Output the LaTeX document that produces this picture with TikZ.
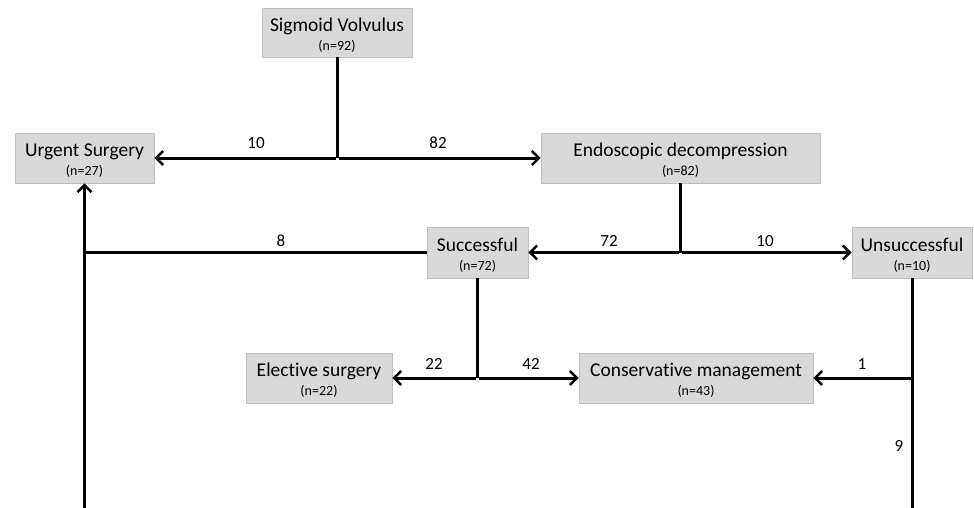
\documentclass[tikz,border=0pt]{standalone}
\usepackage{fontspec}
\setmainfont[Ligatures=NoCommon]{Carlito}
\usetikzlibrary{arrows.meta}
\definecolor{boxfill}{HTML}{D9D9D9}
\definecolor{boxdraw}{HTML}{BFBFBF}
\tikzset{
  box/.style={draw=boxdraw, fill=boxfill, line width=0.8pt, align=center, inner sep=0pt,
    font=\fontsize{19.5}{21}\selectfont},
  conn/.style={line width=3pt, -{Straight Barb[length=7pt,width=14pt,line width=2.5pt]}},
  plain/.style={line width=3pt},
  lbl/.style={font=\fontsize{17}{19}\selectfont}
}
\newcommand{\ttl}[1]{\rule{0pt}{18.5pt}#1}
\newcommand{\nsub}[1]{\\[-2pt]{\fontsize{14}{16}\selectfont #1}}
\begin{document}
\begin{tikzpicture}[x=1pt,y=-1pt]
\useasboundingbox (0,0) rectangle (974,507);
\node[box, minimum width=150pt, minimum height=49pt] (sv) at (337,32.5) {\ttl{Sigmoid Volvulus}\nsub{(n=92)}};
\node[box, minimum width=139pt, minimum height=50pt] (us) at (84.5,158) {\ttl{Urgent Surgery}\nsub{(n=27)}};
\node[box, minimum width=279pt, minimum height=50pt] (ed) at (680.5,158) {\ttl{Endoscopic decompression}\nsub{(n=82)}};
\node[box, minimum width=101pt, minimum height=51pt] (succ) at (477.5,252.5) {\ttl{Successful}\nsub{(n=72)}};
\node[box, minimum width=120pt, minimum height=51pt] (uns) at (912,252.5) {\ttl{Unsuccessful}\nsub{(n=10)}};
\node[box, minimum width=146pt, minimum height=50pt] (el) at (319,378) {\ttl{Elective surgery}\nsub{(n=22)}};
\node[box, minimum width=234pt, minimum height=50pt] (cm) at (696,378) {\ttl{Conservative management}\nsub{(n=43)}};

\coordinate (j1) at (sv.south |- us.east);
\coordinate (j2) at (ed.south |- succ.east);
\coordinate (j3) at (succ.south |- el.east);
\coordinate (j4) at (uns.south |- cm.east);
\coordinate (bl) at (us.south |- 0,508);
\coordinate (br) at (uns.south |- 0,508);
\coordinate (jl) at (us.south |- succ.west);

\draw[plain] (sv.south) -- (j1);
\draw[conn] ([xshift=-1.5pt]j1) -- (us.east);
\draw[conn] ([xshift=1.5pt]j1) -- (ed.west);
\draw[plain] (ed.south) -- (j2);
\draw[conn] ([xshift=-1.5pt]j2) -- (succ.east);
\draw[conn] ([xshift=1.5pt]j2) -- (uns.west);
\draw[plain] (succ.west) -- ([xshift=-1.5pt]jl);
\draw[conn] (bl) -- (us.south);
\draw[plain] (succ.south) -- (j3);
\draw[conn] ([xshift=-1.5pt]j3) -- (el.east);
\draw[conn] ([xshift=1.5pt]j3) -- (cm.west);
\draw[plain] (uns.south) -- (br);
\draw[conn] ([xshift=1.5pt]j4) -- (cm.east);

\node[lbl] (l10a) at (256,143) {10};
\node[lbl] (l82) at (438,143) {82};
\node[lbl] (l8) at (281,241) {8};
\node[lbl] (l72) at (609,241) {72};
\node[lbl] (l10b) at (765,241) {10};
\node[lbl] (l22) at (434,364) {22};
\node[lbl] (l42) at (531,364) {42};
\node[lbl] (l1) at (862,364) {1};
\node[lbl] (l9) at (899,446) {9};
\end{tikzpicture}
\end{document}
